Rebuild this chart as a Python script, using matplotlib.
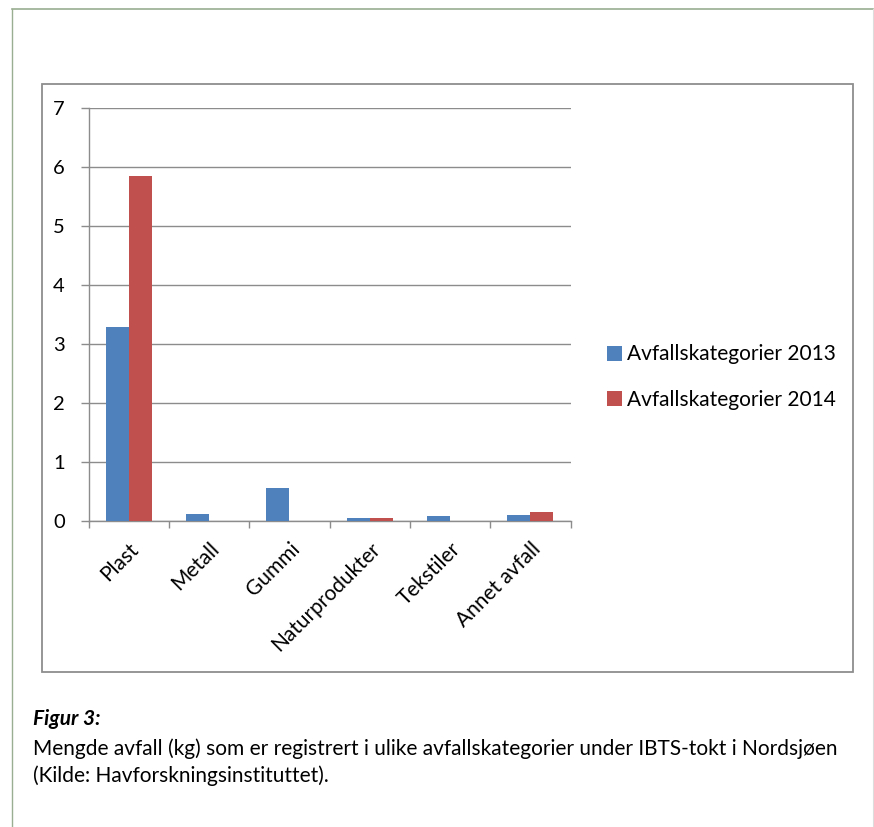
import matplotlib
matplotlib.use("Agg")
import matplotlib.pyplot as plt
from matplotlib.patches import Rectangle
from matplotlib.lines import Line2D
import numpy as np

categories = ["Plast", "Metall", "Gummi", "Naturprodukter", "Tekstiler", "Annet avfall"]
values_2013 = [3.28, 0.12, 0.56, 0.05, 0.08, 0.10]
values_2014 = [5.85, 0.0, 0.0, 0.05, 0.0, 0.15]
series_labels = ["Avfallskategorier 2013", "Avfallskategorier 2014"]
y_ticks = [0, 1, 2, 3, 4, 5, 6, 7]

BLUE = "#4F81BD"
RED = "#C0504D"
GRID = "#8C8C8C"
FONT = "Lato"

W, H = 874, 827
fig = plt.figure(figsize=(W / 100, H / 100), dpi=100)
fig.patch.set_facecolor("white")


def fx(px):
    return px / W


def fy(py):
    return 1 - py / H


# page border (left and top green-grey, right light grey)
fig.add_artist(Line2D([fx(12), fx(12)], [fy(9), fy(826)], color="#9AAE92", lw=1.0))
fig.add_artist(Line2D([fx(12), fx(873)], [fy(9), fy(9)], color="#9AAE92", lw=1.2))
fig.add_artist(Line2D([fx(872.5), fx(872.5)], [fy(9), fy(826)], color="#DDDDDD", lw=0.8))

# chart frame
fig.add_artist(Rectangle((fx(42), fy(672)), fx(853) - fx(42), fy(84) - fy(672),
                         fill=False, edgecolor="#8E8E8E", lw=1.3))

ax = fig.add_axes([fx(88.5), fy(520.7), fx(570.5) - fx(88.5), fy(108) - fy(520.7)])

x = np.arange(len(categories))
bw = 0.2857
ax.bar(x - bw / 2, values_2013, width=bw, color=BLUE, label=series_labels[0], zorder=3)
ax.bar(x + bw / 2, values_2014, width=bw, color=RED, label=series_labels[1], zorder=3)

ax.set_xlim(-0.5, len(categories) - 0.5)
ax.set_ylim(0, 7)
ax.set_yticks(y_ticks)
ax.set_yticklabels([str(t) for t in y_ticks], fontfamily=FONT, fontsize=14.5)
ax.tick_params(axis="y", length=6, width=1, color=GRID, pad=11)

ax.set_xticks(np.arange(-0.5, len(categories), 1.0))
ax.set_xticklabels([])
ax.tick_params(axis="x", which="major", length=5, width=1, color=GRID, direction="out")
ax.set_xticks(x, minor=True)
ax.set_xticklabels(categories, minor=True, rotation=45, ha="right", rotation_mode="anchor",
                   fontfamily=FONT, fontsize=15)
ax.tick_params(axis="x", which="minor", length=0, pad=13)

ax.yaxis.grid(True, color=GRID, lw=1.0, zorder=0)
ax.set_axisbelow(True)
for s in ["top", "right"]:
    ax.spines[s].set_visible(False)
for s in ["left", "bottom"]:
    ax.spines[s].set_color(GRID)
    ax.spines[s].set_linewidth(1.0)

fig.legend(loc="center left", bbox_to_anchor=(fx(603), fy(377)), frameon=False,
           prop={"family": FONT, "size": 15}, handlelength=0.7, handleheight=0.7,
           handletextpad=0.25, labelspacing=1.2, borderaxespad=0, borderpad=0.2)

fig.text(fx(33), fy(719), "Figur 3:", fontfamily=FONT, fontsize=15, fontweight="bold",
         fontstyle="italic", va="center", ha="left")
fig.text(fx(33), fy(749), "Mengde avfall (kg) som er registrert i ulike avfallskategorier under IBTS-tokt i Nordsjøen",
         fontfamily=FONT, fontsize=15, va="center", ha="left")
fig.text(fx(33), fy(776), "(Kilde: Havforskningsinstituttet).",
         fontfamily=FONT, fontsize=15, va="center", ha="left")

fig.savefig("out.png", dpi=100)
